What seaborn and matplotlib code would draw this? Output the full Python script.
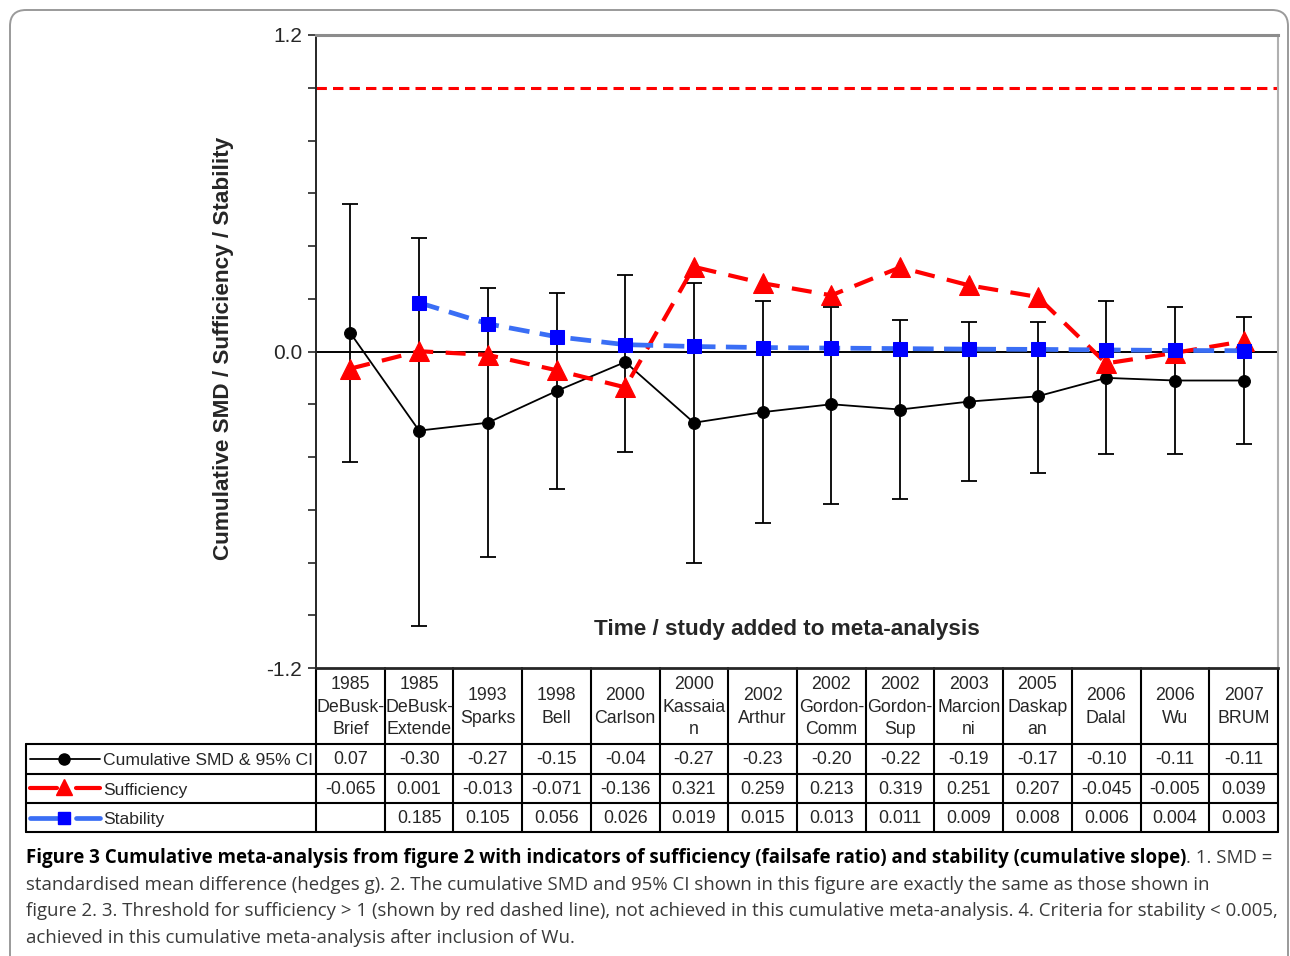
import numpy as np
import pandas as pd
import matplotlib
matplotlib.use("Agg")
import matplotlib.pyplot as plt
from matplotlib import font_manager
from matplotlib.patches import FancyBboxPatch
from matplotlib.ticker import MultipleLocator, FuncFormatter
import seaborn as sns

# data
studies = ["1985\nDeBusk-\nBrief", "1985\nDeBusk-\nExtende", "1993\nSparks", "1998\nBell",
           "2000\nCarlson", "2000\nKassaia\nn", "2002\nArthur", "2002\nGordon-\nComm",
           "2002\nGordon-\nSup", "2003\nMarcion\nni", "2005\nDaskap\nan", "2006\nDalal",
           "2006\nWu", "2007\nBRUM"]
smd = [0.07, -0.30, -0.27, -0.15, -0.04, -0.27, -0.23, -0.20, -0.22, -0.19, -0.17, -0.10, -0.11, -0.11]
ci_low = [-0.42, -1.04, -0.78, -0.52, -0.38, -0.80, -0.65, -0.58, -0.56, -0.49, -0.46, -0.39, -0.39, -0.35]
ci_high = [0.56, 0.43, 0.24, 0.22, 0.29, 0.26, 0.19, 0.17, 0.12, 0.11, 0.11, 0.19, 0.17, 0.13]
sufficiency = [-0.065, 0.001, -0.013, -0.071, -0.136, 0.321, 0.259, 0.213, 0.319, 0.251, 0.207, -0.045, -0.005, 0.039]
stability = [np.nan, 0.185, 0.105, 0.056, 0.026, 0.019, 0.015, 0.013, 0.011, 0.009, 0.008, 0.006, 0.004, 0.003]
sufficiency_threshold = 1.0

row_labels = ["Cumulative SMD & 95% CI", "Sufficiency", "Stability"]
y_label = "Cumulative SMD / Sufficiency / Stability"
x_label = "Time / study added to meta-analysis"
caption_bold = ("Figure 3 Cumulative meta-analysis from figure 2 with indicators of sufficiency "
                "(failsafe ratio) and stability (cumulative slope)")
caption_rest = [
    ". 1. SMD =",
    "standardised mean difference (hedges g). 2. The cumulative SMD and 95% CI shown in this figure are exactly the same as those shown in",
    "figure 2. 3. Threshold for sufficiency > 1 (shown by red dashed line), not achieved in this cumulative meta-analysis. 4. Criteria for stability < 0.005,",
    "achieved in this cumulative meta-analysis after inclusion of Wu.",
]

RED = "#ff0000"
BLUE_LINE = "#3a6ef5"
BLUE_MARK = "#0000ff"

sns.set_style("ticks")
available = {f.name for f in font_manager.fontManager.ttflist}
chart_font = "Liberation Sans Narrow" if "Liberation Sans Narrow" in available else "Liberation Sans"
plt.rcParams["font.family"] = ["Liberation Sans", "DejaVu Sans"]

W, H = 1290, 956
L, R, T, B = 316, 1278, 35, 668

fig = plt.figure(figsize=(W / 100, H / 100), dpi=100)
fig.patch.set_facecolor("white")

ax = fig.add_axes([L / W, 1 - B / H, (R - L) / W, (B - T) / H])
ov = fig.add_axes([0, 0, 1, 1], zorder=-1)
ov.set_xlim(0, W)
ov.set_ylim(H, 0)
ov.axis("off")

pos = np.arange(len(studies))
df = pd.DataFrame({"pos": pos, "smd": smd, "low": ci_low, "high": ci_high,
                   "sufficiency": sufficiency, "stability": stability})

# CI whiskers
ax.errorbar(df["pos"], df["smd"], yerr=[df["smd"] - df["low"], df["high"] - df["smd"]],
            fmt="none", ecolor="black", elinewidth=1.3, capsize=5.5, capthick=1.3, zorder=2)
ax.axhline(0, color="black", lw=1.4, zorder=1)
ax.axhline(sufficiency_threshold, color=RED, lw=2.2, linestyle=(0, (3.4, 2.0)), zorder=1)

sns.lineplot(data=df, x="pos", y="smd", ax=ax, color="black", lw=1.3, marker="o",
             markersize=8.5, markeredgecolor="black", zorder=3)
sns.lineplot(data=df, x="pos", y="sufficiency", ax=ax, color=RED, lw=3.0,
             linestyle=(0, (4.8, 3.0)), marker="^", markersize=14,
             markeredgecolor=RED, zorder=4)
sns.lineplot(data=df.dropna(), x="pos", y="stability", ax=ax, color=BLUE_LINE, lw=3.4,
             linestyle=(0, (4.4, 2.2)), marker="s", markersize=10,
             markerfacecolor=BLUE_MARK, markeredgecolor=BLUE_MARK, zorder=5)

ax.set_xlim(-0.5, len(studies) - 0.5)
ax.set_ylim(-1.2, 1.2)
ax.set_xticks([])
ax.set_xlabel("")
ax.set_ylabel("")
ax.yaxis.set_major_locator(MultipleLocator(0.2))
ax.yaxis.set_major_formatter(FuncFormatter(
    lambda v, _: f"{v:.1f}" if round(abs(v), 2) in (0.0, 1.2) else ""))
ax.tick_params(axis="y", direction="out", length=6, width=1.2, labelsize=15, pad=4)
for lab in ax.get_yticklabels():
    lab.set_family(chart_font)
ax.spines["top"].set_color("#8c8c8c")
ax.spines["top"].set_linewidth(2.2)
ax.spines["right"].set_color("#b0b0b0")
ax.spines["right"].set_linewidth(1.5)
ax.spines["left"].set_linewidth(1.4)
ax.spines["bottom"].set_linewidth(2.0)
ax.patch.set_alpha(0)

ov.text(224, 348, y_label, rotation=90, ha="center", va="center",
        fontsize=16.2, fontweight="bold", family=chart_font)
ov.text(787, 630, x_label, ha="center", va="center", fontsize=16.2,
        fontweight="bold", family=chart_font)

# data table under the chart
cols = L + np.arange(len(studies) + 1) * (R - L) / len(studies)
row_y = [744, 773.5, 803, 832]
for k, cx in enumerate(cols):
    ov.plot([cx, cx], [B, row_y[-1]], color="black", lw=1.5)
ov.plot([26, 26], [row_y[0], row_y[-1]], color="black", lw=1.5)
for ry in row_y:
    ov.plot([26, R], [ry, ry], color="black", lw=1.5)

for i, name in enumerate(studies):
    ov.text((cols[i] + cols[i + 1]) / 2, (B + row_y[0]) / 2 + 1, name, ha="center",
            va="center", fontsize=12.8, family=chart_font, linespacing=1.42)

row_values = [[f"{v:.2f}" for v in smd],
              [f"{v:.3f}" for v in sufficiency],
              ["" if np.isnan(v) else f"{v:.3f}" for v in stability]]
for r, vals in enumerate(row_values):
    cy = (row_y[r] + row_y[r + 1]) / 2 + 1
    for i, txt in enumerate(vals):
        ov.text((cols[i] + cols[i + 1]) / 2, cy, txt, ha="center", va="center",
                fontsize=12.8, family=chart_font)
    ov.text(103, cy + 1, row_labels[r], ha="left", va="center", fontsize=12.6,
            family=chart_font)

# legend keys in the row headers
key_y = [(row_y[r] + row_y[r + 1]) / 2 for r in range(3)]
ov.plot([30, 100], [key_y[0]] * 2, color="black", lw=1.3)
ov.plot([64], [key_y[0]], marker="o", color="black", markersize=8)
ov.plot([30, 57], [key_y[1]] * 2, color=RED, lw=3.0)
ov.plot([76, 100], [key_y[1]] * 2, color=RED, lw=3.0)
ov.plot([64], [key_y[1] - 1], marker="^", color=RED, markersize=11)
ov.plot([30, 57], [key_y[2]] * 2, color=BLUE_LINE, lw=3.4)
ov.plot([76, 100], [key_y[2]] * 2, color=BLUE_LINE, lw=3.4)
ov.plot([64], [key_y[2]], marker="s", color=BLUE_MARK, markersize=9)

# rounded frame round the figure
ov.add_patch(FancyBboxPatch((10, 10), 1278, 970, boxstyle="round,pad=0,rounding_size=16",
                            fill=False, edgecolor="#9a9a9a", lw=1.4))

# caption, sized to fit the printed line widths
renderer = fig.canvas.get_renderer()
cap_font = "Open Sans" if "Open Sans" in available else "DejaVu Sans"


def fit_size(text, weight, target):
    t = ov.text(0, 0, text, fontsize=14, family=cap_font, fontweight=weight)
    w = t.get_window_extent(renderer).width
    t.remove()
    return 14 * target / w


bold_size = fit_size(caption_bold, "bold", 1194 - 26)
reg_size = fit_size(caption_rest[2], "normal", 1278 - 26)
cap_y = [858, 885, 911, 938]
tb = ov.text(26, cap_y[0], caption_bold, ha="left", va="center", fontsize=bold_size,
             fontweight="bold", family=cap_font, color="black")
bb = tb.get_window_extent(renderer)
ov.text(bb.x1, cap_y[0], caption_rest[0], ha="left", va="center", fontsize=reg_size,
        family=cap_font, color="#3a3a3a")
for j in range(1, 4):
    ov.text(26, cap_y[j], caption_rest[j], ha="left", va="center", fontsize=reg_size,
            family=cap_font, color="#3a3a3a")

fig.savefig("out.png", dpi=100, facecolor="white")
